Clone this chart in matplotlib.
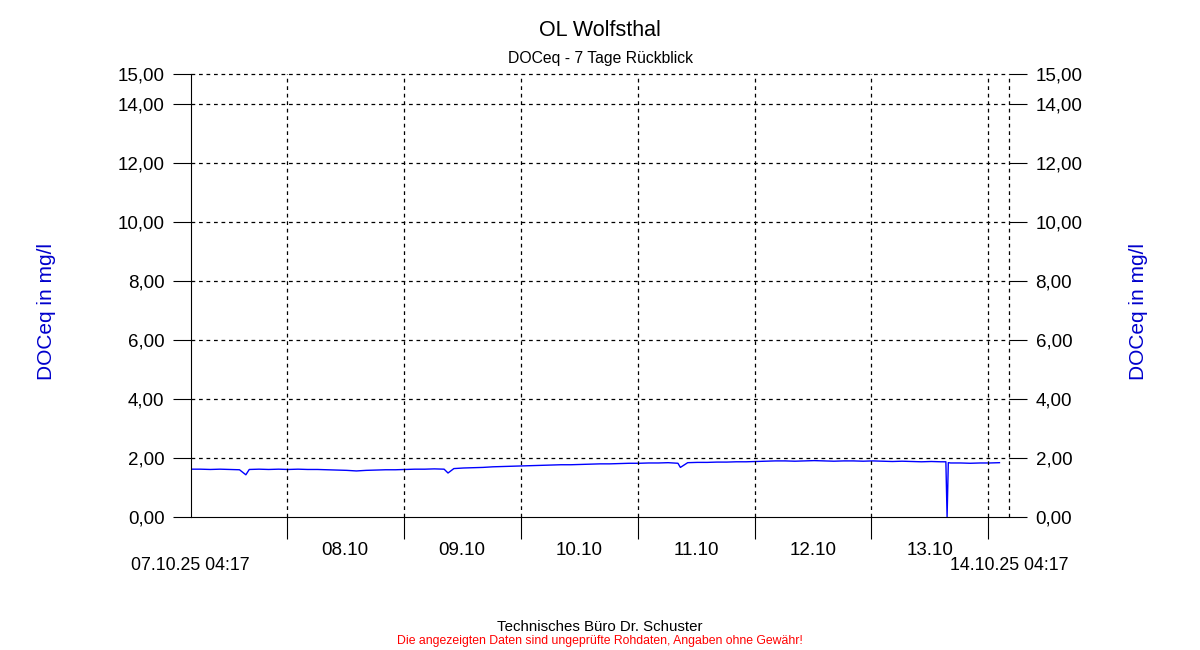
"""OL Wolfsthal - DOCeq, 7 day review."""

from datetime import datetime, timedelta

import matplotlib
matplotlib.use("Agg")
import matplotlib.pyplot as plt

plt.rcParams["font.family"] = ["Liberation Sans", "DejaVu Sans"]

start_time = datetime(2025, 10, 7, 4, 17)
end_time = datetime(2025, 10, 14, 4, 17)

# hours after start, DOCeq in mg/l
hours = [
    0, 2, 4, 6, 8, 10, 11.3, 12, 14, 16, 18, 20, 22, 24, 26, 28, 30, 32,
    34, 36, 38, 40, 42, 44, 46, 48, 50, 52, 52.8, 54, 56, 58, 60, 62, 64,
    66, 68, 70, 72, 74, 76, 78, 80, 82, 84, 86, 88, 90, 92, 94, 96, 98,
    100, 100.5, 102, 104, 106, 108, 110, 112, 114, 116, 118, 120, 122,
    124, 126, 128, 130, 132, 134, 136, 138, 140, 142, 144, 146, 148, 150,
    152, 154, 155.0, 155.25, 155.5, 156, 158, 160, 162, 164, 166,
]
doc_values = [
    1.62, 1.62, 1.61, 1.62, 1.61, 1.60, 1.43, 1.61, 1.62, 1.61, 1.62, 1.61,
    1.62, 1.61, 1.61, 1.60, 1.59, 1.58, 1.56, 1.58, 1.59, 1.60, 1.60, 1.61,
    1.62, 1.62, 1.63, 1.62, 1.49, 1.64, 1.66, 1.67, 1.68, 1.70, 1.71, 1.72,
    1.73, 1.74, 1.75, 1.76, 1.77, 1.77, 1.78, 1.79, 1.80, 1.80, 1.81, 1.82,
    1.82, 1.83, 1.83, 1.84, 1.82, 1.68, 1.84, 1.85, 1.85, 1.86, 1.86, 1.87,
    1.87, 1.88, 1.89, 1.90, 1.90, 1.89, 1.90, 1.91, 1.90, 1.89, 1.90, 1.90,
    1.89, 1.90, 1.89, 1.88, 1.89, 1.88, 1.87, 1.88, 1.87, 1.87, 0.00, 1.84,
    1.83, 1.83, 1.82, 1.83, 1.83, 1.84,
]

y_ticks = [0, 2, 4, 6, 8, 10, 12, 14, 15]
day_labels = ["08.10", "09.10", "10.10", "11.10", "12.10", "13.10"]
day_starts = [datetime(2025, 10, d) for d in range(8, 15)]

times = [start_time + timedelta(hours=h) for h in hours]

fig = plt.figure(figsize=(12, 6.5), dpi=100)
ax = fig.add_axes([0.159, 0.2046, 0.682, 0.6814])

ax.plot(times, doc_values, color="#0000ff", linewidth=1.0)

ax.set_xlim(start_time, end_time)
ax.set_ylim(0, 15)

ax.set_yticks(y_ticks)
ax.set_yticklabels([f"{v:.2f}".replace(".", ",") for v in y_ticks])
ax.tick_params(axis="y", which="both", direction="out", length=13,
               labelsize=13.5, left=True, right=True, labelleft=True,
               labelright=True, pad=6)

# day boundaries as major ticks, labels at noon as minor ticks
ax.set_xticks(day_starts)
ax.set_xticklabels([""] * len(day_starts))
ax.set_xticks([d + timedelta(hours=12) for d in day_starts[:-1]], minor=True)
ax.set_xticklabels(day_labels, minor=True)
ax.tick_params(axis="x", which="major", direction="out", length=16)
ax.tick_params(axis="x", which="minor", length=0, labelsize=13.5, pad=18)

for spine in ("top", "right"):
    ax.spines[spine].set_visible(False)

grid_style = dict(color="black", linestyle=(0, (3, 3)), linewidth=0.9,
                  clip_on=False)
for d in day_starts + [end_time]:
    ax.axvline(d, **grid_style)
for v in y_ticks[1:]:
    ax.axhline(v, **grid_style)

ax.text(start_time, -1.65, start_time.strftime("%d.%m.%y %H:%M"),
        ha="center", va="center", fontsize=12.8)
ax.text(end_time, -1.65, end_time.strftime("%d.%m.%y %H:%M"),
        ha="center", va="center", fontsize=12.8)

fig.text(0.5, 1 - 30 / 650, "OL Wolfsthal", ha="center", va="center",
         fontsize=15.5)
fig.text(0.5, 1 - 59 / 650, "DOCeq - 7 Tage Rückblick", ha="center",
         va="center", fontsize=11.3)
fig.text(46 / 1200, 1 - 312 / 650, "DOCeq in mg/l", rotation=90,
         ha="center", va="center", fontsize=15, color="#0000cc")
fig.text(1138 / 1200, 1 - 312 / 650, "DOCeq in mg/l", rotation=90,
         ha="center", va="center", fontsize=15, color="#0000cc")
fig.text(0.5, 1 - 627 / 650, "Technisches Büro Dr. Schuster", ha="center",
         va="center", fontsize=10.8)
fig.text(0.5, 1 - 641 / 650,
         "Die angezeigten Daten sind ungeprüfte Rohdaten, Angaben ohne Gewähr!",
         ha="center", va="center", fontsize=8.8, color="#ff0000")

fig.savefig("out.png", dpi=100)
